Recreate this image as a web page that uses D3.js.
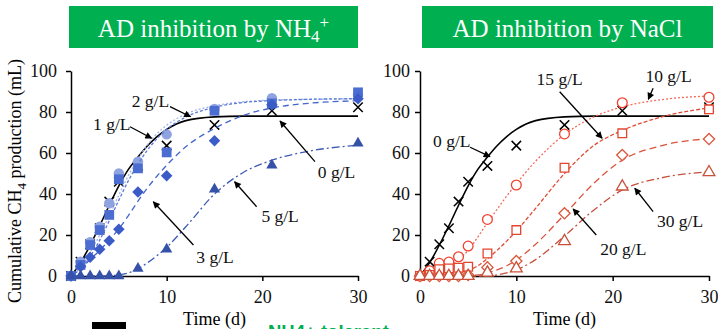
<!doctype html>
<html>
<head>
<meta charset="utf-8">
<style>
  body { margin: 0; background: #fff; }
  svg { display: block; font-family: "Liberation Serif", "Times New Roman", serif; }
  .axis path, .axis line { stroke: #000; stroke-width: 1.5; }
  .axis text { font-size: 18px; fill: #111; font-family: "Liberation Serif", serif; }
  .note { font-size: 17.5px; fill: #111; }
</style>
<script src="https://cdn.jsdelivr.net/npm/d3@7"></script>
</head>
<body>
<script>
// sampling days of the measured points
var days = [0, 1, 2, 3, 4, 5, 7, 10, 15, 21, 30];
var fitDays = [0, 1, 2, 3, 4, 5, 6, 7, 8, 9, 10, 12, 15, 18, 21, 25, 30];

// measured CH4 (mL)
var ctrl  = [0, 7, 15.5, 23.3, 36.3, 46, 53.7, 63.6, 73.7, 80.6, 82.3];
var nh1   = [0, 7, 16.5, 24, 35.5, 50, 55.8, 69.1, 81.5, 86.7, 88.5];
var nh2   = [0, 5.4, 15.1, 22.4, 29.8, 47.2, 52.5, 60.3, 80.6, 84.2, 89.6];
var nh3   = [0, 4.5, 9.1, 13, 17.2, 22.8, 41, 48.9, 66, 83.5, 86.5];
var nh5   = [0, 0, 0, 0, 0, 0, 3.7, 13, 42.3, 54, 64.7];
var na10  = [0, 2.6, 6.2, 6.8, 9.4, 14.6, 27.6, 44.4, 69.3, 84.5, 87.2];
var na15  = [0, 0.5, 3.3, 3.7, 4, 4.5, 11, 22.4, 52.8, 69.6, 81.3];
var na20  = [0, 0, 0, 0, 0, 0.5, 4.2, 7.3, 30.6, 59, 66.8];
var na30  = [0, 0, 0, 0, 0, 0, 1.6, 3.7, 17, 43.6, 50.6];

// fitted curves
var fitCtrl = [0, 6.5, 15, 24.5, 34.5, 44, 52, 58, 63.5, 68, 71.5, 75.8, 77.6, 78, 78, 78, 78];
var fitNh1  = [0, 4.5, 11.5, 20, 29.5, 39.5, 49, 57, 64, 69.5, 73.5, 79, 83, 85, 85.8, 86.2, 86.4];
var fitNh2  = [0, 3.5, 9.5, 17.5, 27, 37, 46.5, 54.5, 61.5, 67, 71.5, 77.5, 82.3, 84.6, 85.6, 86.2, 86.5];
var fitNh3  = [0, 3.5, 8, 12.5, 17.5, 23, 29.5, 36.5, 43, 48.8, 54, 63, 72, 78.3, 82, 84.3, 85.5];
var fitNh5  = [0, 0, 0, 0, 0.1, 0.5, 1.5, 3.5, 6.5, 10, 14, 24, 40, 50.5, 56.5, 61, 63.8];
var fitNa10 = [0, 1, 2.5, 4.5, 8, 12.5, 19, 26, 32.5, 39, 45, 56, 69, 77.5, 82.5, 86, 87.8];
var fitNa15 = [0, 0, 0.3, 0.8, 1.5, 2.8, 5, 8.5, 12.5, 17, 22, 33, 50, 63.5, 71, 77.5, 82];
var fitNa20 = [0, 0, 0, 0, 0, 0.2, 0.5, 1.5, 3, 5, 7.8, 15.5, 30, 45, 56.5, 63.5, 67];
var fitNa30 = [0, 0, 0, 0, 0, 0, 0, 0, 0.5, 1.5, 3, 8, 19.5, 32, 42, 47.8, 50.8];

var xTicks = [0, 10, 20, 30];
var yTicks = [0, 20, 40, 60, 80, 100];

var W = 718, H = 329;
var svg = d3.select("body").append("svg").attr("width", W).attr("height", H);

svg.append("defs").append("marker")
  .attr("id", "head")
  .attr("markerUnits", "userSpaceOnUse")
  .attr("viewBox", "0 0 10 10")
  .attr("refX", 9).attr("refY", 5)
  .attr("markerWidth", 8).attr("markerHeight", 7)
  .attr("orient", "auto")
  .append("path").attr("d", "M0,0L10,5L0,10Z").attr("fill", "#000");

function panel(p) {
  var x = d3.scaleLinear().domain([0, 30]).range([p.left, p.right]);
  var y = d3.scaleLinear().domain([0, 100]).range([276, 71]);
  var g = svg.append("g");

  // title box
  g.append("rect").attr("x", p.boxX).attr("y", 6).attr("width", p.boxW).attr("height", 42)
    .attr("fill", "#00b050");
  var t = g.append("text").attr("x", p.boxX + p.boxW / 2).attr("y", 37)
    .attr("text-anchor", "middle").attr("fill", "#fff").style("font-size", "25px");
  p.title(t);

  g.append("g").attr("class", "axis").attr("transform", "translate(0,276)")
    .call(d3.axisBottom(x).tickValues(xTicks).tickSize(5).tickSizeOuter(0).tickPadding(9));
  g.append("g").attr("class", "axis").attr("transform", "translate(" + p.left + ",0)")
    .call(d3.axisLeft(y).tickValues(yTicks).tickSize(5).tickSizeOuter(0).tickPadding(p.pad));

  g.append("text").attr("x", (p.left + p.right) / 2).attr("y", 325)
    .attr("text-anchor", "middle").style("font-size", "18px").text("Time (d)");

  var line = d3.line().x(function(d) { return x(d[0]); }).y(function(d) { return y(d[1]); })
    .curve(d3.curveMonotoneX);

  p.series.forEach(function(s) {
    g.append("path").datum(d3.zip(fitDays, s.fit))
      .attr("d", line).attr("fill", "none")
      .attr("stroke", s.line).attr("stroke-width", s.lw || 1.3)
      .attr("stroke-dasharray", s.dash);
    g.selectAll(null).data(d3.zip(days, s.pts)).enter().append("path")
      .attr("transform", function(d) { return "translate(" + x(d[0]) + "," + y(d[1]) + ")"; })
      .attr("d", d3.symbol().type(s.sym).size(s.size))
      .attr("fill", s.fill).attr("stroke", s.stroke).attr("stroke-width", s.sw || 0);
  });

  p.notes.forEach(function(n) {
    g.append("line")
      .attr("x1", x(n.from[0])).attr("y1", y(n.from[1]))
      .attr("x2", x(n.to[0])).attr("y2", y(n.to[1]))
      .attr("stroke", "#000").attr("stroke-width", 1.3).attr("marker-end", "url(#head)");
    g.append("text").attr("class", "note").attr("x", x(n.at[0])).attr("y", y(n.at[1])).text(n.label);
  });
}

var ctrlSeries = { pts: ctrl, fit: fitCtrl, sym: d3.symbolTimes, size: 60, fill: "none", stroke: "#000", sw: 1.5,
  line: "#000", lw: 1.6, dash: null };

panel({
  left: 71, right: 358, pad: 9, boxX: 69, boxW: 289,
  title: function(t) {
    t.append("tspan").text("AD inhibition by NH");
    t.append("tspan").attr("dy", 5).style("font-size", "17px").text("4");
    t.append("tspan").attr("dy", -14).style("font-size", "17px").text("+");
  },
  series: [
    ctrlSeries,
    { pts: nh1, fit: fitNh1, sym: d3.symbolCircle, size: 85, fill: "#8fa3e0", line: "#a3b4ea", dash: "2,2" },
    { pts: nh2, fit: fitNh2, sym: d3.symbolSquare, size: 95, fill: "#4b6dd1", line: "#5a7bd8", dash: "3,2" },
    { pts: nh3, fit: fitNh3, sym: d3.symbolDiamond2, size: 85, fill: "#3b5cc6", line: "#4466cc", dash: "6,4" },
    { pts: nh5, fit: fitNh5, sym: d3.symbolTriangle, size: 55, fill: "#3652a8", line: "#3d5ab5", dash: "8,3,2,3" }
  ],
  notes: [
    { label: "2 g/L", at: [6.34, 82.4], from: [10.35, 82.6], to: [12.5, 77.7] },
    { label: "1 g/L", at: [2.3, 71.2], from: [6.17, 72.8], to: [8.43, 67.2] },
    { label: "0 g/L", at: [25.8, 47.8], from: [25.5, 55.8], to: [21.85, 75.6] },
    { label: "5 g/L", at: [19.9, 26.3], from: [19.4, 33.8], to: [17.1, 46] },
    { label: "3 g/L", at: [13.1, 6.3], from: [12.8, 15.1], to: [8.6, 36.2] }
  ]
});

panel({
  left: 420, right: 709, pad: 5, boxX: 422, boxW: 291,
  title: function(t) { t.text("AD inhibition by NaCl"); },
  series: [
    ctrlSeries,
    { pts: na10, fit: fitNa10, sym: d3.symbolCircle, size: 75, fill: "#fff", stroke: "#f0402f", sw: 1.3, line: "#f26c5c", dash: "2,2" },
    { pts: na15, fit: fitNa15, sym: d3.symbolSquare, size: 75, fill: "#fff", stroke: "#e4452e", sw: 1.3, line: "#e04a35", dash: "4,2" },
    { pts: na20, fit: fitNa20, sym: d3.symbolDiamond2, size: 80, fill: "#fff", stroke: "#dc553b", sw: 1.3, line: "#d8553d", dash: "7,4" },
    { pts: na30, fit: fitNa30, sym: d3.symbolTriangle, size: 60, fill: "#fff", stroke: "#c8503a", sw: 1.3, line: "#c4503c", dash: "8,3,2,3" }
  ],
  notes: [
    { label: "15 g/L", at: [12.1, 93.2], from: [14.5, 89.9], to: [18.9, 67.2] },
    { label: "10 g/L", at: [23.4, 94.6], from: [24.2, 91.6], to: [23.7, 86.2] },
    { label: "0 g/L", at: [1.35, 62.9], from: [5.2, 62.8], to: [7.27, 58.2] },
    { label: "30 g/L", at: [24.6, 23.9], from: [24.2, 31.4], to: [22.3, 42.8] },
    { label: "20 g/L", at: [18.7, 10.2], from: [18.3, 20], to: [15.9, 32.7] }
  ]
});

// y axis title
var yl = svg.append("text").attr("transform", "translate(21,181) rotate(-90)")
  .attr("text-anchor", "middle").style("font-size", "18px");
yl.append("tspan").text("Cumulative CH");
yl.append("tspan").attr("dy", 5).style("font-size", "13px").text("4");
yl.append("tspan").attr("dy", -5).text(" production (mL)");

// bits cut off by the bottom edge, as in the reference
svg.append("rect").attr("x", 92).attr("y", 322).attr("width", 34).attr("height", 10).attr("fill", "#000");
svg.append("text").attr("x", 268).attr("y", 338)
  .style("font-family", "'Liberation Sans', Arial, sans-serif").style("font-weight", "bold")
  .style("font-size", "18.5px").attr("fill", "#00b050").text("NH4+ tolerant");
</script>
</body>
</html>
